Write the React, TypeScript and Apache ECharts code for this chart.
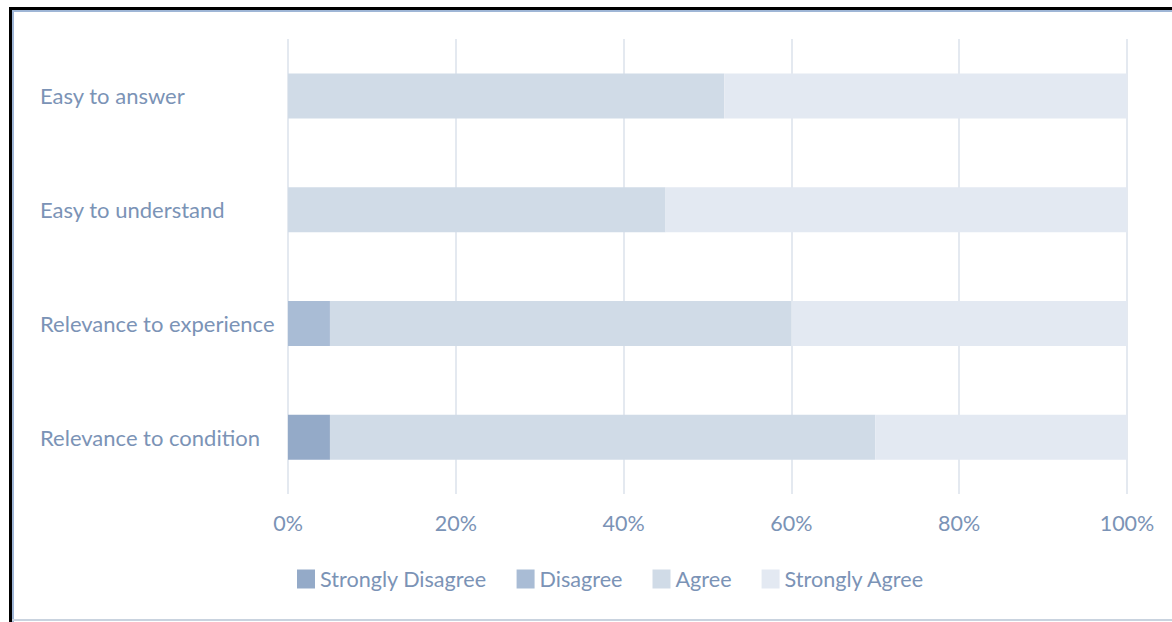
import React, { useEffect, useRef } from "react";
import * as echarts from "echarts";

const categories = [
  "Easy to answer",
  "Easy to understand",
  "Relevance to experience",
  "Relevance to condition",
];
const seriesNames = ["Strongly Disagree", "Disagree", "Agree", "Strongly Agree"];
const stronglyDisagree = [0, 0, 0, 5];
const disagree = [0, 0, 5, 0];
const agree = [52, 45, 55, 65];
const stronglyAgree = [48, 55, 40, 30];
const xTicks = [0, 20, 40, 60, 80, 100];

const colors = ["#94aac8", "#a9bcd5", "#d0dbe7", "#e3e9f2"];
const textColor = "#7b93b6";
const FONT = "Lato, 'Open Sans', sans-serif";

export default function App() {
  const ref = useRef<HTMLDivElement>(null);
  useEffect(() => {
    if (!ref.current) return;
    const chart = echarts.init(ref.current, undefined, { renderer: "svg" });
    const values = [stronglyDisagree, disagree, agree, stronglyAgree];
    chart.setOption({
      animation: false,
      backgroundColor: "#ffffff",
      grid: { left: 288, right: 45, top: 39, bottom: 128, containLabel: false },
      xAxis: {
        type: "value",
        min: xTicks[0],
        max: xTicks[xTicks.length - 1],
        interval: 20,
        axisLine: { show: false },
        axisTick: { show: false },
        splitLine: { show: true, lineStyle: { color: "#e4e9f0", width: 2 } },
        axisLabel: {
          formatter: "{value}%",
          color: textColor,
          fontFamily: FONT,
          fontSize: 21.5,
          margin: 18,
        },
      },
      yAxis: {
        type: "category",
        data: categories,
        inverse: true,
        axisLine: { show: false },
        axisTick: { show: false },
        splitLine: { show: false },
        axisLabel: {
          align: "left",
          margin: 248,
          color: textColor,
          fontFamily: FONT,
          fontSize: 22,
          padding: [3, 0, 0, 0],
        },
      },
      legend: {
        data: seriesNames,
        left: 297,
        top: 568,
        padding: 0,
        itemWidth: 18,
        itemHeight: 19,
        itemGap: 30,
        icon: "rect",
        textStyle: { color: textColor, fontFamily: FONT, fontSize: 21.6 },
      },
      series: seriesNames.map((name, i) => ({
        name,
        type: "bar",
        stack: "total",
        barWidth: 45,
        data: values[i],
        itemStyle: { color: colors[i] },
        emphasis: { disabled: true },
      })),
      graphic: [
        { type: "rect", shape: { x: 9, y: 7, width: 1163, height: 3 }, style: { fill: "#000000" } },
        { type: "rect", shape: { x: 9, y: 7, width: 3, height: 615 }, style: { fill: "#000000" } },
        { type: "rect", shape: { x: 12, y: 10, width: 1160, height: 2 }, style: { fill: "#9fb6d6" } },
        { type: "rect", shape: { x: 12, y: 10, width: 2, height: 612 }, style: { fill: "#9fb6d6" } },
        { type: "rect", shape: { x: 12, y: 619, width: 1160, height: 2 }, style: { fill: "#c9d3df" } },
      ],
    });
    return () => chart.dispose();
  }, []);
  return (
    <div
      ref={ref}
      style={{ position: "absolute", left: 0, top: 0, width: 1172, height: 622 }}
    />
  );
}
